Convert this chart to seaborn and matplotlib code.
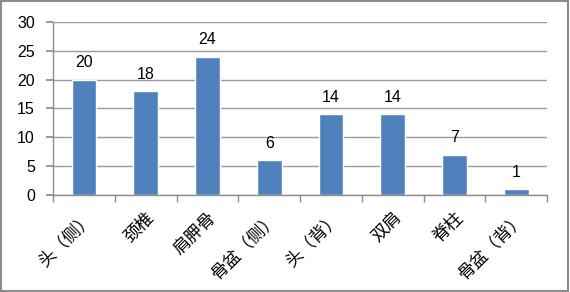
import matplotlib
matplotlib.use("Agg")
import matplotlib.pyplot as plt
import seaborn as sns
import pandas as pd
import numpy as np
from matplotlib.patches import Rectangle

categories = ["头（侧）", "颈椎", "肩胛骨", "骨盆（侧）", "头（背）", "双肩", "脊柱", "骨盆（背）"]
values = [20, 18, 24, 6, 14, 14, 7, 1]
yticks = [0, 5, 10, 15, 20, 25, 30]

sns.set_theme(style="white")
plt.rcParams['font.family'] = ['Noto Sans CJK SC', 'DejaVu Sans']
plt.rcParams['text.color'] = 'black'
plt.rcParams['xtick.labelcolor'] = 'black'
plt.rcParams['ytick.labelcolor'] = 'black'

df = pd.DataFrame({"cat": categories, "val": values})
fig = plt.figure(figsize=(5.7, 2.92), dpi=100)
ax = fig.add_axes([0.093, 0.332, 0.867, 0.593])
sns.barplot(data=df, x="cat", y="val", color="#4F81BD", saturation=1, width=0.4, ax=ax)
ax.set_ylim(0, 30)
ax.set_xlim(-0.5, len(categories) - 0.5)
ax.set_yticks(yticks)
ax.set_yticklabels([str(t) for t in yticks], family=['Liberation Sans', 'DejaVu Sans'], fontsize=11.5)
ax.set_xlabel("")
ax.set_ylabel("")
ax.yaxis.grid(True, color="#9a9a9a", linewidth=1)
ax.set_axisbelow(True)
for s in ["top", "right"]:
    ax.spines[s].set_visible(False)
for s in ["left", "bottom"]:
    ax.spines[s].set_color("#8c8c8c")
    ax.spines[s].set_linewidth(1)
ax.tick_params(axis="y", left=True, length=5, color="#8c8c8c", pad=8, labelcolor="black")
ax.set_xticks(np.arange(-0.5, len(categories), 1), minor=True)
ax.tick_params(axis="x", which="minor", bottom=True, length=5, color="#8c8c8c")
ax.tick_params(axis="x", which="major", bottom=False, pad=4, labelcolor="black")
ax.set_xticklabels(categories, rotation=45, ha="right", rotation_mode="anchor", fontsize=12.5)
for i, v in enumerate(values):
    ax.text(i, v + 1.6, str(v), ha="center", va="bottom", fontsize=11.5, color="black",
            family=['Liberation Sans', 'DejaVu Sans'])
fig.patches.append(Rectangle((0.002, 0.003), 0.995, 0.994, transform=fig.transFigure,
                             fill=False, edgecolor="#8c8c8c", linewidth=1.5))
fig.savefig("out.png", dpi=100)
